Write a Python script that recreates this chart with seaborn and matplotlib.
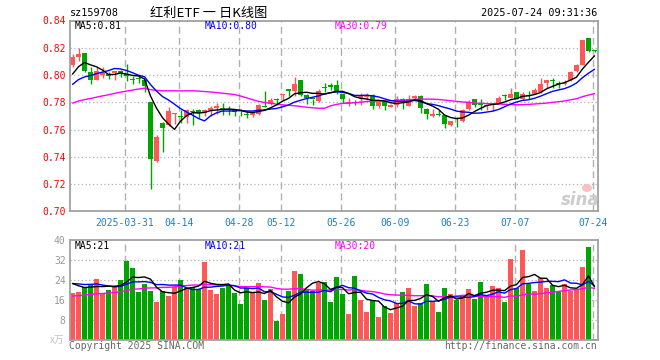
import numpy as np
import pandas as pd
import matplotlib
matplotlib.use("Agg")
import matplotlib.pyplot as plt
from matplotlib.patches import Ellipse
import seaborn as sns

# daily candles 2025-03-18 .. 2025-07-24 (88 trading days)
open_ = [0.8073, 0.8132, 0.8160, 0.8024, 0.7963, 0.8000, 0.8005, 0.8015, 0.8029, 0.8010,
         0.7972, 0.7975, 0.7965, 0.7799, 0.7372, 0.7645, 0.7634, 0.7715, 0.7695, 0.7695,
         0.7733, 0.7740, 0.7720, 0.7745, 0.7755, 0.7756, 0.7745, 0.7740, 0.7730, 0.7712,
         0.7703, 0.7715, 0.7772, 0.7786, 0.7820, 0.7855, 0.7897, 0.7880, 0.7966, 0.7855,
         0.7826, 0.7806, 0.7912, 0.7929, 0.7929, 0.7860, 0.7786, 0.7801, 0.7835, 0.7841,
         0.7855, 0.7774, 0.7806, 0.7767, 0.7782, 0.7826, 0.7774, 0.7831, 0.7848, 0.7752,
         0.7701, 0.7713, 0.7703, 0.7635, 0.7679, 0.7659, 0.7747, 0.7821, 0.7782, 0.7775,
         0.7777, 0.7796, 0.7848, 0.7833, 0.7875, 0.7826, 0.7853, 0.7862, 0.7875, 0.7943,
         0.7962, 0.7935, 0.7931, 0.7960, 0.8029, 0.8073, 0.8269, 0.8182]
high = [0.8152, 0.8201, 0.8162, 0.8059, 0.8059, 0.8060, 0.8022, 0.8031, 0.8035, 0.8078,
        0.7995, 0.7995, 0.7968, 0.7800, 0.7560, 0.7655, 0.7767, 0.7722, 0.7745, 0.7748,
        0.7750, 0.7750, 0.7750, 0.7774, 0.7794, 0.7798, 0.7774, 0.7745, 0.7750, 0.7733,
        0.7735, 0.7787, 0.7885, 0.7830, 0.7835, 0.7862, 0.7897, 0.7988, 0.7966, 0.7858,
        0.7826, 0.7897, 0.7941, 0.7941, 0.7966, 0.7862, 0.7831, 0.7818, 0.7867, 0.7867,
        0.7858, 0.7818, 0.7808, 0.7784, 0.7843, 0.7833, 0.7855, 0.7855, 0.7852, 0.7757,
        0.7750, 0.7745, 0.7706, 0.7666, 0.7689, 0.7752, 0.7813, 0.7823, 0.7821, 0.7782,
        0.7784, 0.7845, 0.7858, 0.7906, 0.7877, 0.7877, 0.7882, 0.7902, 0.7980, 0.7965,
        0.7980, 0.7955, 0.7960, 0.8029, 0.8078, 0.8257, 0.8271, 0.8182]
low = [0.8059, 0.8103, 0.8025, 0.7931, 0.7960, 0.7977, 0.7968, 0.7961, 0.7985, 0.7956,
       0.7932, 0.7942, 0.7875, 0.7166, 0.7362, 0.7437, 0.7623, 0.7637, 0.7650, 0.7650,
       0.7635, 0.7685, 0.7696, 0.7701, 0.7713, 0.7703, 0.7708, 0.7696, 0.7697, 0.7683,
       0.7691, 0.7708, 0.7762, 0.7777, 0.7782, 0.7818, 0.7848, 0.7848, 0.7845, 0.7789,
       0.7777, 0.7801, 0.7872, 0.7892, 0.7860, 0.7794, 0.7774, 0.7777, 0.7782, 0.7818,
       0.7750, 0.7757, 0.7745, 0.7762, 0.7762, 0.7750, 0.7770, 0.7818, 0.7720, 0.7679,
       0.7691, 0.7696, 0.7610, 0.7627, 0.7622, 0.7654, 0.7740, 0.7762, 0.7740, 0.7740,
       0.7735, 0.7794, 0.7814, 0.7828, 0.7821, 0.7814, 0.7821, 0.7858, 0.7870, 0.7906,
       0.7906, 0.7902, 0.7926, 0.7955, 0.8022, 0.8070, 0.8171, 0.8172]
close = [0.8132, 0.8152, 0.8027, 0.7961, 0.8029, 0.8012, 0.7990, 0.8029, 0.8012, 0.7990,
         0.7965, 0.7968, 0.7917, 0.7387, 0.7547, 0.7613, 0.7738, 0.7720, 0.7690, 0.7745,
         0.7728, 0.7722, 0.7742, 0.7757, 0.7769, 0.7745, 0.7740, 0.7725, 0.7725, 0.7708,
         0.7725, 0.7779, 0.7766, 0.7818, 0.7815, 0.7862, 0.7880, 0.7936, 0.7855, 0.7835,
         0.7821, 0.7880, 0.7908, 0.7909, 0.7880, 0.7826, 0.7799, 0.7793, 0.7848, 0.7855,
         0.7774, 0.7801, 0.7770, 0.7782, 0.7826, 0.7806, 0.7826, 0.7848, 0.7757, 0.7715,
         0.7715, 0.7705, 0.7642, 0.7664, 0.7674, 0.7742, 0.7804, 0.7777, 0.7777, 0.7780,
         0.7782, 0.7828, 0.7843, 0.7858, 0.7826, 0.7862, 0.7848, 0.7890, 0.7931, 0.7960,
         0.7955, 0.7931, 0.7943, 0.8024, 0.8070, 0.8255, 0.8176, 0.8178]
# volume, 万手
volume = [19.1, 19.5, 21.5, 22.7, 24.7, 19.1, 20.1, 21.5, 24.1, 31.7,
          28.9, 19.3, 22.7, 19.7, 15.5, 19.7, 17.7, 21.5, 24.1, 20.8,
          21.5, 20.4, 31.3, 20.1, 18.5, 21.1, 21.7, 19.1, 14.5, 20.8,
          19.3, 22.9, 16.1, 20.7, 7.9, 10.5, 19.7, 27.7, 26.7, 20.4,
          19.7, 22.9, 23.3, 15.3, 25.3, 18.7, 10.5, 25.7, 16.1, 11.3,
          16.0, 9.3, 13.7, 10.9, 14.9, 19.3, 20.9, 13.7, 14.9, 22.5,
          15.7, 11.3, 20.9, 18.5, 16.1, 17.7, 20.5, 16.5, 23.3, 18.1,
          21.7, 20.9, 15.3, 32.5, 20.9, 36.1, 22.5, 19.7, 24.9, 20.9,
          22.1, 19.7, 22.5, 19.7, 20.1, 29.3, 37.3, 0.5]
# the 29 sessions before 03-18 (not drawn, only feed the moving averages)
pre_close = [0.770, 0.772, 0.771, 0.774, 0.773, 0.775, 0.772, 0.774, 0.776, 0.773,
             0.774, 0.773, 0.772, 0.770, 0.771, 0.773, 0.772, 0.771, 0.773, 0.772,
             0.780, 0.783, 0.786, 0.789, 0.790, 0.788, 0.787, 0.805, 0.810]
pre_volume = [14, 16, 15, 17, 15, 14, 16, 15, 17, 14,
              15, 14, 16, 15, 14, 17, 15, 16, 14, 15,
              21, 24, 22, 23, 23.5, 24, 25, 22, 23.5]

date_pos = [9, 18, 28, 35, 45, 54, 64, 74, 87]
date_labels = ["2025-03-31", "04-14", "04-28", "05-12", "05-26",
               "06-09", "06-23", "07-07", "07-24"]
price_ticks = [0.70, 0.72, 0.74, 0.76, 0.78, 0.80, 0.82, 0.84]
vol_ticks = [8, 16, 24, 32, 40]

RED = "#ff5757"
GREEN = "#00a600"
MONO = "DejaVu Sans Mono"

sns.set_style("white")
plt.rcParams["font.family"] = ["Noto Sans CJK SC", "DejaVu Sans"]

n = len(close)
idx = np.arange(n)
o = np.array(open_); c = np.array(close); h = np.array(high); l = np.array(low)
up = c >= o
cols = np.where(up, RED, GREEN)

cs = pd.Series(pre_close + close)
vs = pd.Series(pre_volume + volume)
k = len(pre_close)
ma = {w: cs.rolling(w).mean().values[k:] for w in (5, 10, 30)}
vma = {w: vs.rolling(w).mean().values[k:] for w in (5, 10, 30)}
ma_colors = {5: "black", 10: "#0000ff", 30: "#ff00ff"}

W, H = 660, 360
fig = plt.figure(figsize=(6.6, 3.6), dpi=100)
x0, x1 = 70.3, 597.7
ax = fig.add_axes([x0 / W, 1 - 211.3 / H, (x1 - x0) / W, (211.3 - 20.5) / H])
axv = fig.add_axes([x0 / W, 1 - 340.3 / H, (x1 - x0) / W, 100 / H])

grid_x = [p - 0.3 for p in date_pos]
for a in (ax, axv):
    for gx in grid_x:
        a.axvline(gx, color="#b0b0b0", lw=1, ls=(0, (5, 3)), zorder=0)
    for s in a.spines.values():
        s.set_color("#a0a0a0")
        s.set_linewidth(1.3)
    a.set_xlim(-0.37, 87.53)

# price panel
for py in price_ticks[1:-1]:
    ax.axhline(py, color="#b0b0b0", lw=0.9, ls=(0, (1, 2)), zorder=0)
ax.vlines(idx, l, h, colors=cols, lw=1, zorder=2)
body = np.maximum(np.abs(c - o), 0.0007)
ax.bar(idx, body, bottom=np.minimum(o, c), width=0.82, color=cols, linewidth=0, zorder=2)
for w in (30, 10, 5):
    sns.lineplot(x=idx, y=ma[w], color=ma_colors[w], lw=1, ax=ax, zorder=3)
ax.set_ylim(0.70, 0.84)
ax.set_yticks(price_ticks)
ax.set_yticklabels([f"{t:.2f}" for t in price_ticks], color="red",
                   fontsize=7, family=MONO)
ax.set_xticks(grid_x)
ax.set_xticklabels(date_labels, color="#1a7fcf", fontsize=7, family=MONO)
ax.tick_params(length=0, pad=3.3)
ax.tick_params(axis="x", pad=5)
ax.set_xlabel(""); ax.set_ylabel("")

# volume panel
for vy in vol_ticks[:-1]:
    axv.axhline(vy, color="#b0b0b0", lw=0.9, ls=(0, (1, 2)), zorder=0)
vdf = pd.DataFrame({"idx": idx, "vol": volume, "dir": np.where(up, "up", "down")})
sns.barplot(data=vdf, x="idx", y="vol", hue="dir", palette={"up": RED, "down": GREEN},
            native_scale=True, dodge=False, width=0.82, errorbar=None, legend=False,
            saturation=1, linewidth=0, ax=axv, zorder=2)
for w in (30, 10, 5):
    sns.lineplot(x=idx, y=vma[w], color=ma_colors[w], lw=1, ax=axv, zorder=3)
axv.set_xlim(-0.37, 87.53)
axv.set_ylim(0, 40)
axv.set_yticks(vol_ticks)
axv.set_yticklabels([str(t) for t in vol_ticks], color="#999999", fontsize=7, family=MONO)
axv.set_xticks([])
axv.tick_params(length=0, pad=3.3)
axv.set_xlabel(""); axv.set_ylabel("")


def ftext(x, y, s, **kw):
    fig.text(x / W, 1 - y / H, s, va="center", **kw)


ftext(70, 13, "sz159708", fontsize=7.3, family=MONO, color="black")
ftext(150, 13, "红利ETF 一 日K线图", fontsize=9.5, color="black")
ftext(597, 13, "2025-07-24 09:31:36", fontsize=7.3, family=MONO, color="black", ha="right")

ftext(75, 26, "MA5:0.81", fontsize=7, family=MONO, color="black")
ftext(205, 26, "MA10:0.80", fontsize=7, family=MONO, color="#0000ff")
ftext(335, 26, "MA30:0.79", fontsize=7, family=MONO, color="#ff00ff")
ftext(75, 246, "MA5:21", fontsize=7, family=MONO, color="black")
ftext(205, 246, "MA10:21", fontsize=7, family=MONO, color="#0000ff")
ftext(335, 246, "MA30:20", fontsize=7, family=MONO, color="#ff00ff")

ftext(64, 340, "x万", fontsize=7, color="#c0c0c0", ha="right")
ftext(69, 346, "Copyright 2025 SINA.COM", fontsize=7, family=MONO, color="#666666")
ftext(597, 346, "http://finance.sina.com.cn", fontsize=7, family=MONO, color="#666666",
      ha="right")

# sina watermark: pink eye above grey "sina"
fig.patches.append(Ellipse((587 / W, 1 - 188 / H), 10 / W, 8 / H, transform=fig.transFigure,
                           facecolor="#f6c2c2", edgecolor="none", zorder=5))
ftext(580, 200, "sina", fontsize=12, color="#cccccc", style="italic", weight="bold",
      ha="center", family="DejaVu Sans")

fig.savefig("out.png", dpi=100)
